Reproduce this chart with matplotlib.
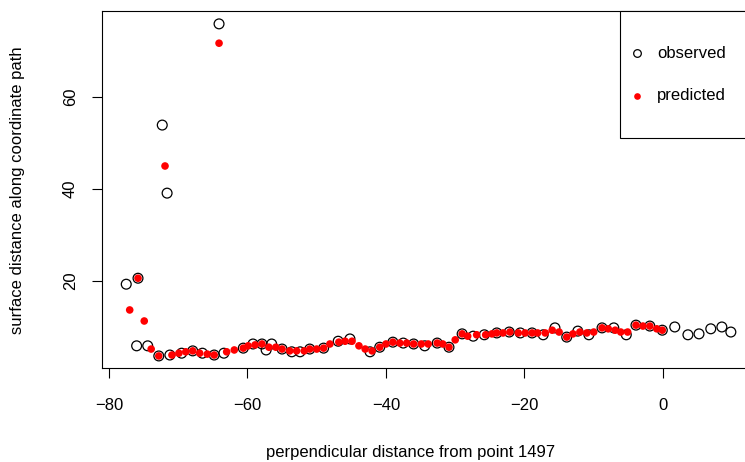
import matplotlib
matplotlib.use("Agg")
import matplotlib.pyplot as plt
from matplotlib.patches import Rectangle

plt.rcParams['font.family'] = ['Liberation Sans', 'DejaVu Sans']

obs_x = [-64.1, -72.3, -71.6, -77.5, -75.8,
         -76.0, -74.4, -72.8, -71.2, -69.5, -67.9, -66.5, -64.8, -63.4, -60.6,
         -59.2, -57.9, -57.3, -56.5, -55.0, -53.6, -52.4, -51.0, -49.0, -46.9,
         -45.2, -42.3, -40.9, -39.0, -37.5, -36.0, -34.4, -32.6, -30.9, -29.0,
         -27.4, -25.8, -24.0, -22.2, -20.6, -18.9, -17.3, -15.6, -13.9, -12.3,
         -10.7, -8.8, -7.1, -5.3, -3.9, -1.9, -0.1, 1.7, 3.6, 5.2, 6.9, 8.5, 9.8]
obs_y = [75.8, 53.8, 39.0, 19.2, 20.5,
         5.8, 5.8, 3.6, 3.8, 4.2, 4.7, 4.2, 3.8, 4.2, 5.3,
         6.2, 6.2, 4.9, 6.2, 5.1, 4.5, 4.5, 5.1, 5.3, 6.8,
         7.3, 4.5, 5.5, 6.6, 6.4, 6.2, 5.8, 6.4, 5.5, 8.4,
         7.9, 8.2, 8.6, 8.8, 8.6, 8.6, 8.2, 9.7, 7.7, 9.0,
         8.2, 9.7, 9.7, 8.2, 10.3, 10.1, 9.2, 9.9, 8.2, 8.4, 9.5, 9.9, 8.8]

pred_x = [-64.1, -71.9, -77.0, -75.8, -74.9,
          -73.9, -72.8, -70.9, -69.9, -68.9, -67.9, -66.9, -65.8, -64.8, -63.0,
          -61.9, -60.6, -59.9, -58.9, -57.9, -56.9, -55.9, -55.0, -53.9, -52.9,
          -51.8, -51.0, -50.0, -49.0, -48.1, -46.8, -45.9, -44.9, -43.9, -43.0,
          -42.0, -40.9, -40.0, -39.0, -38.0, -37.0, -36.0, -34.9, -33.9, -32.6,
          -31.8, -30.9, -30.0, -29.0, -28.2, -26.9, -25.6, -24.7, -24.0, -23.1,
          -22.1, -20.9, -19.9, -18.9, -18.1, -17.0, -16.0, -15.0, -13.9, -13.0,
          -12.0, -11.0, -10.0, -8.8, -7.9, -6.9, -6.1, -5.1, -3.9, -2.9,
          -1.9, -0.9, -0.1]
pred_y = [71.6, 44.9, 13.6, 20.5, 11.2,
          5.1, 3.6, 3.8, 4.2, 4.5, 4.7, 4.2, 4.0, 3.8, 4.5,
          4.9, 5.3, 5.8, 6.0, 6.2, 5.5, 5.5, 5.1, 4.7, 4.7,
          4.7, 5.1, 5.1, 5.3, 6.2, 6.6, 6.8, 6.8, 5.8, 5.1,
          4.7, 5.5, 6.2, 6.6, 6.4, 6.4, 6.2, 6.2, 6.2, 6.4,
          6.2, 5.5, 7.1, 8.4, 7.9, 8.2, 8.2, 8.4, 8.6, 8.6,
          8.8, 8.6, 8.6, 8.6, 8.6, 8.6, 9.2, 8.8, 7.7, 8.4,
          8.8, 8.6, 8.8, 9.7, 9.5, 9.2, 8.8, 8.8, 10.3, 10.1,
          10.1, 9.5, 9.2]

x_ticks = [-80, -60, -40, -20, 0]
y_ticks = [20, 40, 60]
x_label = "perpendicular distance from point 1497"
y_label = "surface distance along coordinate path"
legend_labels = ["observed", "predicted"]

FS = 12
W, H = 745, 462
fig = plt.figure(figsize=(W / 100, H / 100), dpi=100)
ax = fig.add_axes([102 / W, (H - 368) / H, 654 / W, 357 / H])

ax.scatter(obs_x, obs_y, s=50, facecolors='none', edgecolors='black', linewidths=0.9, zorder=3)
ax.scatter(pred_x, pred_y, s=30, color='red', edgecolors='none', zorder=4)

ax.set_xlim(-81.0, 13.43)
ax.set_ylim(0.98, 78.6)
ax.set_xticks(x_ticks)
ax.set_xticklabels([str(t).replace('-', '\u2212') for t in x_ticks])
ax.set_yticks(y_ticks)
ax.set_yticklabels([str(t) for t in y_ticks], rotation=90, va='center')
ax.tick_params(axis='both', direction='out', length=7.5, width=0.8, labelsize=FS, colors='black')
ax.tick_params(axis='x', pad=14)
ax.tick_params(axis='y', pad=10)
for sp in ax.spines.values():
    sp.set_linewidth(0.8)
    sp.set_color('black')

fig.text(411 / W, 1 - 453 / H, x_label, ha='center', va='center', fontsize=FS)
fig.text(18 / W, 1 - 190 / H, y_label, ha='center', va='center', rotation=90, fontsize=FS)

# legend box (top right)
ax.add_patch(Rectangle((0.792, 0.644), 0.3, 0.356, transform=ax.transAxes,
                       facecolor='white', edgecolor='black', linewidth=0.8, zorder=5, clip_on=False))
ax.plot([0.818], [0.882], transform=ax.transAxes, marker='o', markersize=5.5,
        markerfacecolor='none', markeredgecolor='black', markeredgewidth=0.9, zorder=6, clip_on=False)
ax.plot([0.818], [0.762], transform=ax.transAxes, marker='o', markersize=4.8,
        color='red', markeredgewidth=0, zorder=6, clip_on=False)
ax.text(0.849, 0.882, legend_labels[0], transform=ax.transAxes, ha='left', va='center', fontsize=FS, zorder=6)
ax.text(0.849, 0.762, legend_labels[1], transform=ax.transAxes, ha='left', va='center', fontsize=FS, zorder=6)

fig.savefig("out.png", dpi=100)
